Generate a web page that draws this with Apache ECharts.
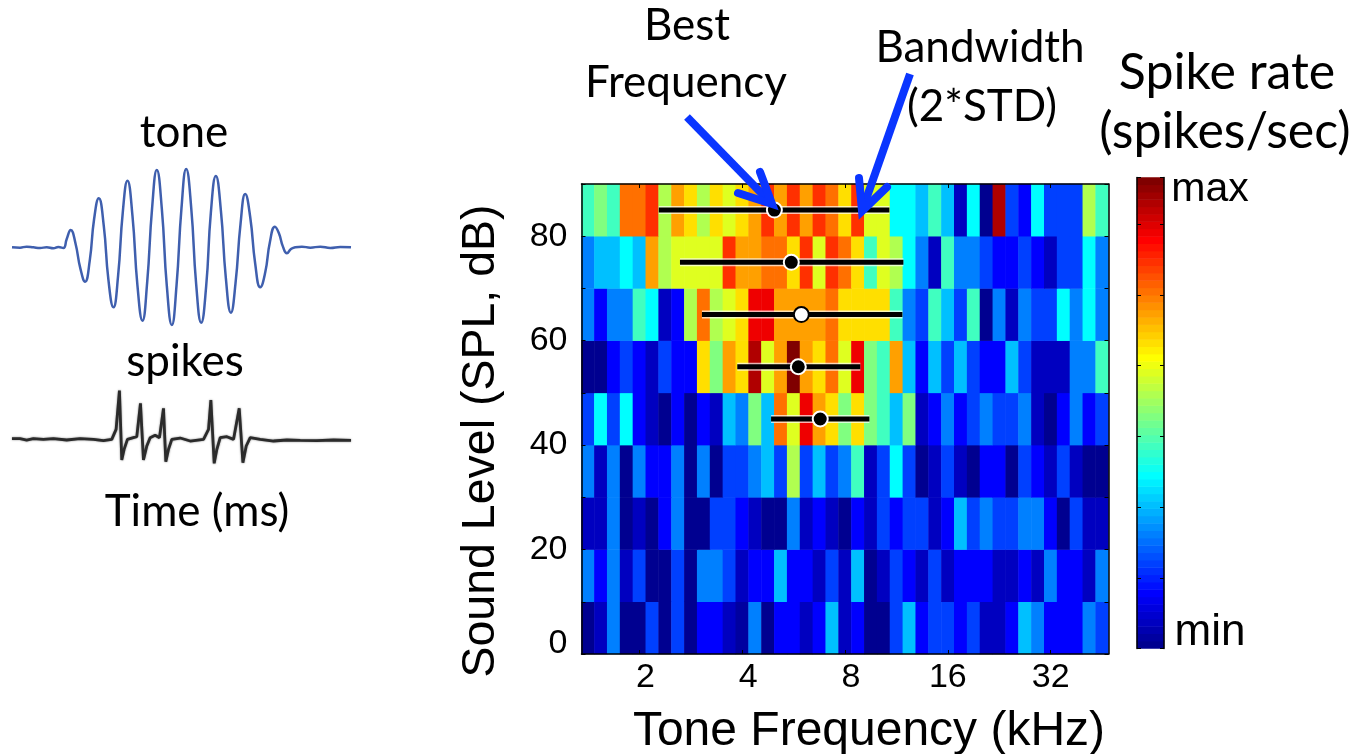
<!DOCTYPE html>
<html><head><meta charset="utf-8">
<style>html,body{margin:0;padding:0;background:#fff}#c{width:1355px;height:754px}</style>
<script src="https://cdn.jsdelivr.net/npm/echarts@6/dist/echarts.min.js"></script>
</head><body><div id="c"></div>
<script>
// Frequency columns: 1/8-octave steps, labelled in kHz at every octave
const freqCols = ['1.42','1.55','1.68','1.83','2','2.18','2.38','2.59','2.83','3.08','3.36','3.67','4','4.36','4.76','5.19','5.66','6.17','6.73','7.34','8','8.72','9.51','10.4','11.3','12.3','13.5','14.7','16','17.4','19','20.7','22.6','24.7','26.9','29.3','32','34.9','38.1','41.5','45.3'];
const xTickLabels = {'2':'2','4':'4','8':'8','16':'16','32':'32'};
const levelRows = ['5','15','25','35','45','55','65','75','85'];
// Colour level (0-63) by row
const row5  = [0,3,15,0,0,11,0,11,0,7,7,3,1,15,0,7,7,3,7,19,3,7,0,0,11,19,7,11,11,7,11,3,3,7,19,15,7,7,7,15,11];
const row15 = [15,7,15,3,11,0,0,11,0,15,15,11,3,7,7,19,7,7,3,11,3,19,0,3,11,7,3,11,3,7,7,7,3,3,7,3,15,7,7,3,15];
const row25 = [3,3,15,0,3,0,7,15,0,0,11,11,7,3,0,0,15,3,7,3,0,7,3,11,7,11,11,3,7,19,11,15,11,11,15,15,7,0,11,3,3];
const row35 = [15,3,15,0,15,7,7,15,0,15,0,11,11,15,19,11,34,11,19,11,15,27,3,11,23,11,0,3,11,3,0,7,7,0,11,7,3,11,3,0,0];
const row45 = [11,23,11,23,7,3,0,7,0,7,3,19,15,31,19,48,37,56,45,41,31,41,31,27,19,31,3,7,15,7,11,15,11,11,15,3,0,7,15,7,11];
const row55 = [0,0,7,11,7,3,11,7,7,41,31,45,41,60,37,45,63,45,41,48,37,56,31,27,45,19,7,19,11,19,11,7,7,19,11,3,3,3,15,15,27];
const row65 = [15,7,15,15,27,23,3,7,34,48,34,37,41,56,56,45,45,45,45,48,41,41,41,41,27,15,11,27,19,11,27,0,15,3,15,11,11,23,15,23,15];
const row75 = [15,19,19,23,19,45,34,37,37,37,37,52,45,45,48,48,41,52,37,52,48,41,27,37,34,23,15,3,27,15,15,11,7,7,11,7,3,11,11,23,15];
const row85 = [27,31,27,48,48,52,34,45,41,34,41,37,41,45,52,45,52,45,52,48,41,52,37,37,23,23,19,27,19,3,23,0,60,11,7,23,11,11,11,34,27];
const rows = [row5,row15,row25,row35,row45,row55,row65,row75,row85];
const colorbarLevels = [0,1,2,3,4,5,6,7,8,9,10,11,12,13,14,15,16,17,18,19,20,21,22,23,24,25,26,27,28,29,30,31,32,33,34,35,36,37,38,39,40,41,42,43,44,45,46,47,48,49,50,51,52,53,54,55,56,57,58,59,60,61,62,63];
// Tuning: level (dB), best frequency, bandwidth edges (kHz), marker fill
const tuneLevels = [85,75,65,55,45];
const bestFreq = [4.97,5.57,5.96,5.84,6.77];
const bandLow  = [2.28,2.63,3.05,3.87,4.86];
const bandHigh = [10.79,11.86,11.78,8.87,9.43];
const markerFill = ['#000','#000','#fff','#000','#000'];
// Example traces (time, amplitude in arbitrary units)
const toneT = [36,60,80,100,120,140,160,175,190,200,212,226,241,255,269,282,296,311,325,340,354,368,382,397,412,427,441,456,470,485,500,515,529,544,558,573,588,603,618,632,647,662,677,692,706,721,735,750,765,780,795,809,824,836,848,860,872,885,905,930,960,990,1020,1052];
const toneA = [0,-1,2,0,-2,0,-3,1,-2,25,52,13,-64,-103,-40,84,147,65,-98,-180,-85,105,200,95,-115,-220,-107,119,232,116,-116,-233,-116,118,235,120,-111,-226,-116,104,214,111,-93,-196,-107,71,160,90,-50,-120,-75,16,62,42,2,-18,-5,0,2,-1,2,-2,1,0];
const spikeT = [36,60,80,100,130,160,200,240,280,310,335,348,358,365,372,382,410,421,430,440,450,465,478,490,497,505,515,540,570,610,625,632,642,650,660,680,700,717,728,738,750,780,820,860,900,950,1000,1052];
const spikeA = [2,2,-2,2,0,2,-2,2,0,-4,0,30,146,-62,-30,0,8,108,-62,-20,5,12,5,93,-67,-30,0,4,-5,0,30,118,-72,-30,5,8,0,93,-70,-20,5,0,-5,-2,-3,-4,-2,-3];
const labels = [
 {t:'Best',x:687,y:26,f:'Lato',s:44},
 {t:'Frequency',x:686,y:83,f:'Lato',s:44},
 {t:'Bandwidth',x:980,y:48,f:'Lato',s:44},
 {t:'(2*STD)',x:982,y:107,f:'Lato',s:44},
 {t:'Spike rate',x:1227,y:73,f:'Lato',s:50},
 {t:'(spikes/sec)',x:1225,y:132,f:'Lato',s:50},
 {t:'tone',x:184,y:133,f:'Lato',s:44},
 {t:'spikes',x:185,y:362,f:'Lato',s:44},
 {t:'Time (ms)',x:197,y:512,f:'Lato',s:44},
 {t:'max',x:1210,y:190,f:'Liberation Sans',s:41},
 {t:'min',x:1210,y:633,f:'Liberation Sans',s:44}
];
const arrows = [
 {shaft:[[687,117],[772,204]],head:[[760,172],[772,204],[738,193]]},
 {shaft:[[910,74],[862,211]],head:[[859,178],[862,211],[887,187]]}
];

const jet = ['#000080','#0000ff','#0080ff','#00ffff','#80ff80','#ffff00','#ff8000','#ff0000','#800000'];
const heatData = [];
rows.forEach((r,j)=>r.forEach((v,i)=>heatData.push([i,j,v])));
const tuneData = tuneLevels.map((l,i)=>[bestFreq[i],l,bandLow[i],bandHigh[i],i]);
const zip = (a,b)=>a.map((v,i)=>[v,b[i]]);
const sans = 'Liberation Sans';
const LOGMIN = 2*Math.pow(2,-4.5/8), LOGMAX = 2*Math.pow(2,36.5/8);
const tickShown = i => (i-4)%8===0;
const tick = {show:true,inside:true,length:4,lineStyle:{color:'#000',width:1}};
const line = {show:true,onZero:false,lineStyle:{color:'#000',width:1.5}};
const G = {left:581.5,top:184,width:527,height:470,outerBoundsMode:'none'};
const graphic = [];
labels.forEach(l=>graphic.push({type:'text',x:l.x,y:l.y,z:50,style:{text:l.t,fill:'#000',font:l.s+'px "'+l.f+'"',textAlign:'center',textVerticalAlign:'middle'}}));
arrows.forEach(a=>{
  graphic.push({type:'polyline',z:60,shape:{points:a.shaft},style:{stroke:'#0a35ff',lineWidth:8,lineCap:'butt',fill:null}});
  graphic.push({type:'polyline',z:60,shape:{points:a.head},style:{stroke:'#0a35ff',lineWidth:8,lineCap:'round',lineJoin:'miter',fill:null}});
});

const chart = echarts.init(document.getElementById('c'),null,{renderer:'canvas'});
chart.setOption({
 animation:false,
 backgroundColor:'#fff',
 grid:[
  {...G},
  {left:1137,top:177.5,width:27,height:471,outerBoundsMode:'none'},
  {left:12,top:167.3,width:339,height:160,outerBoundsMode:'none'},
  {left:12,top:386,width:339,height:106.7,outerBoundsMode:'none'}
 ],
 xAxis:[
  {type:'category',gridIndex:0,data:freqCols,position:'bottom',z:10,
   axisLine:line,axisTick:{...tick,alignWithLabel:true,interval:tickShown},
   axisLabel:{interval:tickShown,margin:7,color:'#000',fontFamily:sans,fontSize:34,hideOverlap:false,
     formatter:v=>{const t=xTickLabels[v];return t.length===1?'{s|'+t+'}':t},
     rich:{s:{fontFamily:sans,fontSize:34,color:'#000',padding:[0,0,0,12]}}},
   name:'Tone Frequency (kHz)',nameLocation:'middle',nameGap:54,
   nameTextStyle:{fontFamily:sans,fontSize:48,color:'#000',padding:[0,0,0,48]}},
  {type:'category',gridIndex:0,data:freqCols,position:'top',z:10,
   axisLine:line,axisTick:{...tick,alignWithLabel:true,interval:tickShown},axisLabel:{show:false}},
  {type:'log',logBase:2,gridIndex:0,min:LOGMIN,max:LOGMAX,show:false},
  {type:'category',gridIndex:1,data:['c'],show:false},
  {type:'value',gridIndex:2,min:36,max:1052,show:false},
  {type:'value',gridIndex:3,min:36,max:1052,show:false}
 ],
 yAxis:[
  {type:'category',gridIndex:0,data:levelRows,show:false},
  {type:'value',gridIndex:0,min:0,max:90,interval:10,position:'left',z:10,
   axisLine:line,axisTick:tick,splitLine:{show:false},
   axisLabel:{margin:14,color:'#000',fontFamily:sans,fontSize:34,
     formatter:v=>v===0?'{z|0}':(v%20===0?String(v):''),
     rich:{z:{fontFamily:sans,fontSize:34,color:'#000',padding:[0,0,20,0]}}},
   name:'Sound Level (SPL, dB)',nameLocation:'middle',nameGap:77,
   nameTextStyle:{fontFamily:sans,fontSize:46.5,color:'#000',padding:[0,44,0,0]}},
  {type:'value',gridIndex:0,min:0,max:90,interval:10,position:'right',z:10,
   axisLine:line,axisTick:tick,splitLine:{show:false},axisLabel:{show:false}},
  {type:'category',gridIndex:1,data:colorbarLevels.map(String),show:false},
  {type:'value',gridIndex:1,min:0,max:66.6,interval:10,position:'left',z:10,
   axisLine:line,axisTick:tick,splitLine:{show:false},axisLabel:{show:false}},
  {type:'value',gridIndex:1,min:0,max:66.6,interval:10,position:'right',z:10,
   axisLine:line,axisTick:tick,splitLine:{show:false},axisLabel:{show:false}},
  {type:'value',gridIndex:2,min:-240,max:240,show:false},
  {type:'value',gridIndex:3,min:-160,max:160,show:false}
 ],
 visualMap:{type:'continuous',show:false,seriesIndex:[0,1],dimension:2,min:-1,max:63,inRange:{color:jet}},
 series:[
  {type:'heatmap',xAxisIndex:0,yAxisIndex:0,data:heatData,z:2,emphasis:{disabled:true},progressive:0},
  {type:'heatmap',xAxisIndex:3,yAxisIndex:3,data:colorbarLevels.map(v=>[0,v,v]),z:2,emphasis:{disabled:true},progressive:0},
  {type:'custom',xAxisIndex:2,yAxisIndex:1,z:20,clip:false,silent:true,data:tuneData,
   encode:{x:0,y:1},
   renderItem:(p,api)=>{
     const c=api.coord([api.value(0),api.value(1)]);
     const a=api.coord([api.value(2),api.value(1)]);
     const b=api.coord([api.value(3),api.value(1)]);
     const fill=markerFill[api.value(4)];
     return {type:'group',children:[
       {type:'rect',shape:{x:a[0],y:c[1]-4,width:b[0]-a[0],height:8},style:{fill:'rgba(255,255,255,.7)'}},
       {type:'rect',shape:{x:a[0],y:c[1]-2.5,width:b[0]-a[0],height:5},style:{fill:'#000'}},
       {type:'circle',shape:{cx:c[0],cy:c[1],r:7.5},style:{fill:fill,stroke:fill==='#000'?'#fff':'#000',lineWidth:2}}
     ]};
   }},
  {type:'line',xAxisIndex:4,yAxisIndex:6,data:zip(toneT,toneA),showSymbol:false,smooth:0.5,
   lineStyle:{color:'#3f5fae',width:2.5},silent:true},
  {type:'line',xAxisIndex:5,yAxisIndex:7,data:zip(spikeT,spikeA),showSymbol:false,
   lineStyle:{color:'#2b2b2b',width:2.8,shadowBlur:2,shadowColor:'rgba(0,0,0,.5)'},silent:true}
 ],
 graphic:graphic
});
</script></body></html>
